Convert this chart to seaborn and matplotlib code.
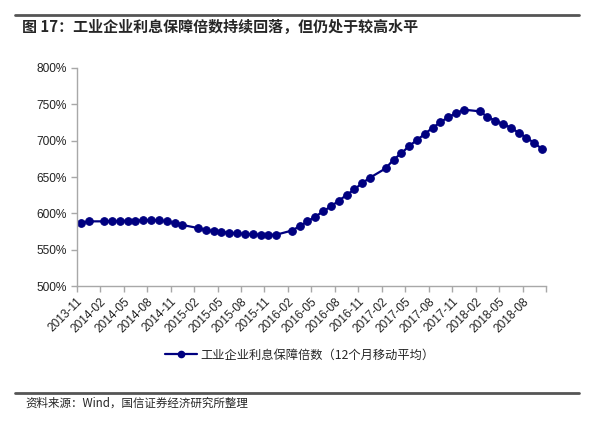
import numpy as np
import pandas as pd
import matplotlib
matplotlib.use("Agg")
import matplotlib.pyplot as plt
import seaborn as sns
from matplotlib.lines import Line2D

# monthly data, January has no release
months = ["2013-11", "2013-12",
          "2014-02", "2014-03", "2014-04", "2014-05", "2014-06", "2014-07",
          "2014-08", "2014-09", "2014-10", "2014-11", "2014-12",
          "2015-02", "2015-03", "2015-04", "2015-05", "2015-06", "2015-07",
          "2015-08", "2015-09", "2015-10", "2015-11", "2015-12",
          "2016-02", "2016-03", "2016-04", "2016-05", "2016-06", "2016-07",
          "2016-08", "2016-09", "2016-10", "2016-11", "2016-12",
          "2017-02", "2017-03", "2017-04", "2017-05", "2017-06", "2017-07",
          "2017-08", "2017-09", "2017-10", "2017-11", "2017-12",
          "2018-02", "2018-03", "2018-04", "2018-05", "2018-06", "2018-07",
          "2018-08", "2018-09", "2018-10"]
ratio = [586.7, 589.0,
         589.0, 589.4, 589.4, 590.0, 590.0, 590.4,
         590.9, 590.4, 589.0, 586.7, 584.0,
         579.8, 577.0, 575.7, 574.3, 573.4, 572.5,
         571.6, 571.1, 570.6, 570.6, 570.6,
         576.3, 582.3, 589.0, 595.4, 602.8, 609.6,
         617.4, 625.2, 633.0, 641.7, 649.1,
         661.9, 673.9, 682.6, 692.7, 700.9, 709.2,
         717.9, 725.2, 732.6, 737.6, 742.7,
         740.4, 733.0, 727.5, 722.9, 717.9, 711.0,
         704.1, 696.8, 688.5]
tick_labels = ["2013-11", "2014-02", "2014-05", "2014-08", "2014-11",
               "2015-02", "2015-05", "2015-08", "2015-11", "2016-02",
               "2016-05", "2016-08", "2016-11", "2017-02", "2017-05",
               "2017-08", "2017-11", "2018-02", "2018-05", "2018-08"]
series_name = "工业企业利息保障倍数（12个月移动平均）"
title = "图 17：工业企业利息保障倍数持续回落，但仍处于较高水平"
source = "资料来源：Wind，国信证券经济研究所整理"


def month_pos(s):
    y, m = s.split("-")
    return (int(y) - 2013) * 12 + int(m) - 11


df = pd.DataFrame({"pos": [month_pos(m) + 0.5 for m in months], "ratio": ratio})

sns.set_style("white")
plt.rcParams["font.family"] = ["Liberation Sans", "Noto Sans CJK SC"]

navy = "#000080"
fig = plt.figure(figsize=(6, 4.25), dpi=100)
ax = fig.add_axes([0.128, 0.327, 0.782, 0.513])

sns.lineplot(data=df, x="pos", y="ratio", ax=ax, color=navy, marker="o",
             markersize=5.5, markeredgecolor=navy, linewidth=1.6)

ax.set_xlim(0, 60)
ax.set_ylim(500, 800)
ax.set_yticks(np.arange(500, 801, 50))
ax.set_yticklabels([f"{v}%" for v in range(500, 801, 50)], fontsize=8.6, color="#222222")
ax.set_xticks(np.arange(0, 61, 3))
ax.set_xticklabels(tick_labels + [""], rotation=45, ha="right",
                   rotation_mode="anchor", fontsize=8.6, color="#222222")
ax.set_xlabel("")
ax.set_ylabel("")
for side in ["top", "right"]:
    ax.spines[side].set_visible(False)
for side in ["left", "bottom"]:
    ax.spines[side].set_color("#a8a8a8")
    ax.spines[side].set_linewidth(1.0)
ax.tick_params(axis="both", which="major", length=4, width=1.0, color="#a8a8a8",
               direction="out", left=True, bottom=True)
ax.tick_params(axis="x", pad=3)
ax.tick_params(axis="y", pad=3)

handle = Line2D([], [], color=navy, marker="o", markersize=4.5, linewidth=1.6)
ax.legend([handle], [series_name], loc="center", bbox_to_anchor=(0.5, 0.165),
          bbox_transform=fig.transFigure, frameon=False, handlelength=2.6,
          handletextpad=0.3, prop={"family": "Noto Sans CJK SC", "size": 8.8})

# header / footer rules
fig.add_artist(Line2D([0.025, 0.965], [1 - 15 / 425] * 2, color="#555555", linewidth=2.0))
fig.add_artist(Line2D([0.025, 0.965], [1 - 393 / 425] * 2, color="#555555", linewidth=2.0))
fig.text(0.037, 1 - 27 / 425, title, fontsize=10.8, fontweight="bold",
         family=["Noto Sans CJK SC", "DejaVu Sans"], va="center", ha="left")
fig.text(0.042, 1 - 403 / 425, source, fontsize=8.3,
         family=["Noto Sans CJK SC", "DejaVu Sans"], va="center", ha="left")

fig.savefig("out.png", dpi=100, facecolor="white")
